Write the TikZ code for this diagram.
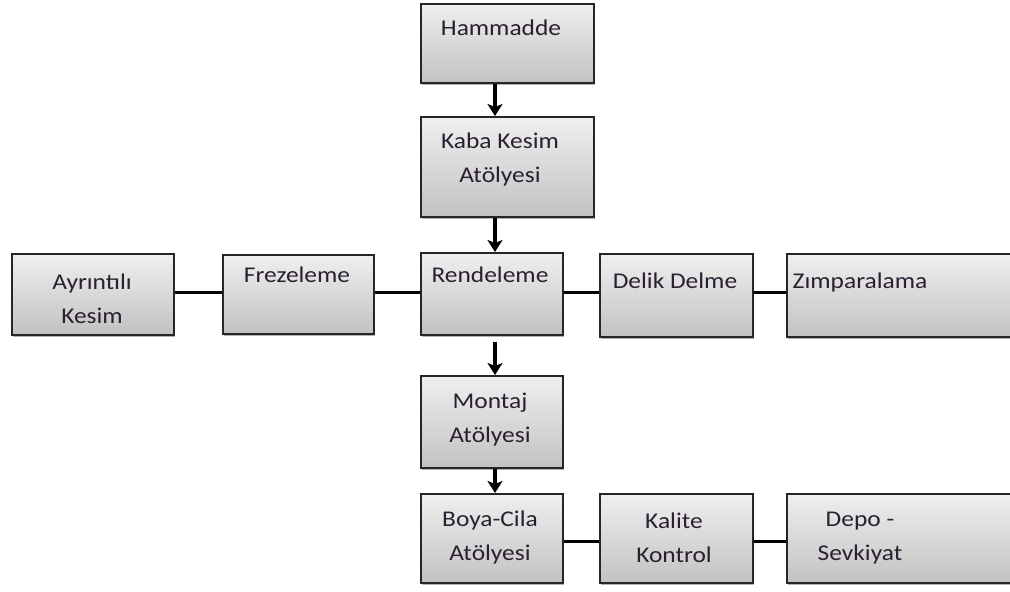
\documentclass[tikz,border=0pt]{standalone}
\usepackage{fontspec}
\setmainfont{Carlito}[FakeStretch=1.13]
\usetikzlibrary{arrows.meta,shadows}
\definecolor{boxtop}{HTML}{EFEFEF}
\definecolor{boxbot}{HTML}{C2C2C2}
\definecolor{txt}{HTML}{2A2030}
\tikzset{
  box/.style={draw=black!85, line width=1.8pt, top color=boxtop, bottom color=boxbot,
    anchor=north west, inner sep=0pt,
    drop shadow={shadow xshift=1.5pt, shadow yshift=-2pt, opacity=0.5, fill=black!60}},
  lbl/.style={text=txt, font=\fontsize{22.5}{34}\selectfont, align=center, inner sep=0pt},
  conn/.style={line width=3pt, black},
  arr/.style={line width=3.2pt, black, -{Stealth[width=15pt,length=12pt,inset=3pt]}}
}
\begin{document}
\begin{tikzpicture}[x=1pt,y=-1pt]
\useasboundingbox (0,0) rectangle (1010,592);
\clip (0,0) rectangle (1010,592);
% boxes
\node[box, minimum width=173pt, minimum height=79pt]  (ham)  at (420,3)   {};
\node[box, minimum width=173pt, minimum height=100pt] (kaba) at (420,116) {};
\node[box, minimum width=142pt, minimum height=82pt]  (ren)  at (420,252) {};
\node[box, minimum width=151pt, minimum height=79pt]  (fre)  at (222,254) {};
\node[box, minimum width=162pt, minimum height=81pt]  (ayr)  at (11,253)  {};
\node[box, minimum width=153pt, minimum height=83pt]  (del)  at (599,253) {};
\node[box, minimum width=240pt, minimum height=83pt]  (zim)  at (786,253) {};
\node[box, minimum width=142pt, minimum height=92pt]  (mon)  at (420,375) {};
\node[box, minimum width=142pt, minimum height=89pt]  (boya) at (420,493) {};
\node[box, minimum width=153pt, minimum height=89pt]  (kal)  at (599,493) {};
\node[box, minimum width=240pt, minimum height=89pt]  (depo) at (786,493) {};
% labels
\node[lbl] (hamT)  at (501,28)  {Hammadde};
\node[lbl] (kabaT) at (500,159) {Kaba Kesim\\Atölyesi};
\node[lbl] (renT)  at (490,275) {Rendeleme};
\node[lbl] (freT)  at (297,275) {Frezeleme};
\node[lbl] (ayrT)  at (92,299)  {Ayrıntılı\\Kesim};
\node[lbl] (delT)  at (675,281) {Delik Delme};
\node[lbl] (zimT)  at (860,282) {Zımparalama};
\node[lbl] (monT)  at (490,420) {Montaj\\Atölyesi};
\node[lbl] (boyaT) at (490,537) {Boya-Cila\\Atölyesi};
\node[lbl] (kalT)  at (674,538) {Kalite\\Kontrol};
\node[lbl] (depoT) at (860,538) {Depo -\\Sevkiyat};
% arrows
\draw[arr] (ham.south -| 495,0) -- (kaba.north -| 495,0);
\draw[arr] (kaba.south -| 495,0) -- (ren.north -| 495,0);
\draw[arr, shorten <=6pt] (ren.south -| 495,0) -- (mon.north -| 495,0);
\draw[arr] (mon.south -| 495,0) -- (boya.north -| 495,0);
% connectors
\draw[conn] (ayr.east |- 0,292) -- (fre.west |- 0,292);
\draw[conn] (fre.east |- 0,292) -- (ren.west |- 0,292);
\draw[conn] (ren.east |- 0,292) -- (del.west |- 0,292);
\draw[conn] (del.east |- 0,292) -- (zim.west |- 0,292);
\draw[conn] (boya.east |- 0,541) -- (kal.west |- 0,541);
\draw[conn] (kal.east |- 0,541) -- (depo.west |- 0,541);
\end{tikzpicture}
\end{document}
